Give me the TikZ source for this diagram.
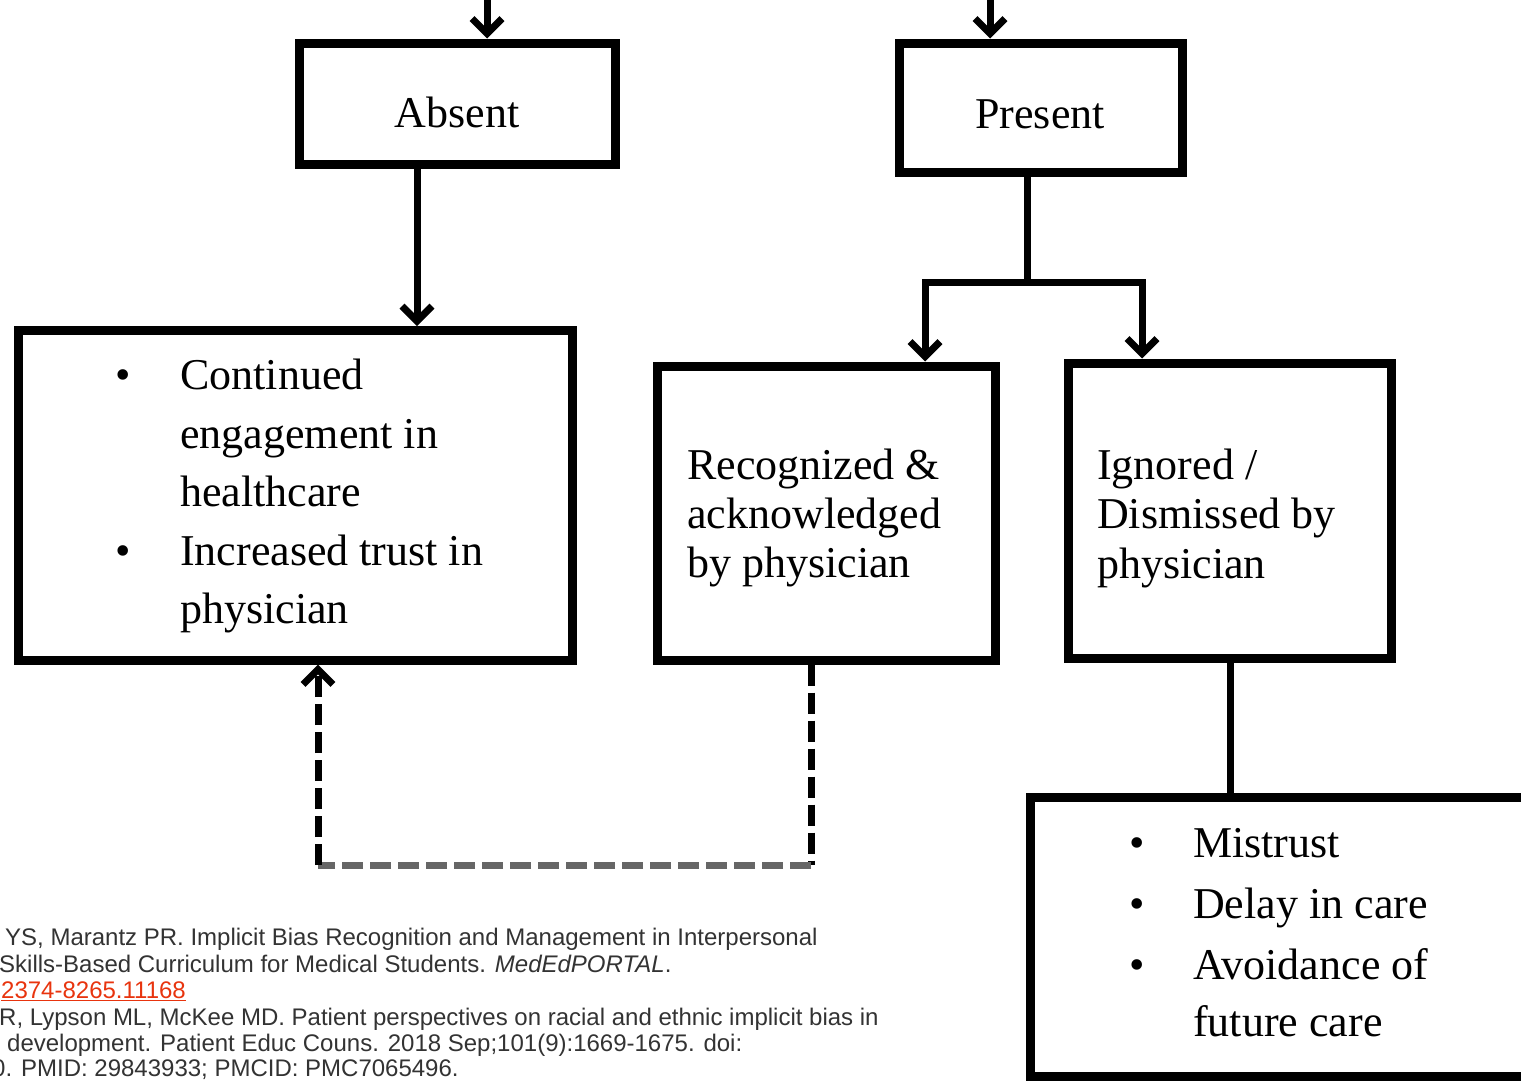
\documentclass[tikz,border=0pt]{standalone}
\usepackage{fontspec}
\setmainfont{Liberation Serif}
\newfontfamily\refsans{Liberation Sans}
\usetikzlibrary{arrows.meta}
\definecolor{linkred}{RGB}{232,52,14}
\tikzset{
  box/.style={draw, line width=9pt, outer sep=4.5pt, inner sep=0pt, rectangle},
  conn/.style={line width=7pt},
  chev/.tip={Straight Barb[length=15pt,width=30pt]},
  arr/.style={line width=7pt, -chev},
  dashline/.style={line width=7pt, dash pattern=on 21pt off 7pt},
  boxtext/.style={anchor=base west, inner sep=0pt, font=\fontsize{44}{50}\selectfont},
  bul/.style={anchor=base, inner sep=0pt, font=\fontsize{44}{50}\selectfont},
  reftext/.style={anchor=base west, inner sep=0pt, font=\refsans\fontsize{24}{27}\selectfont, text=black!80}
}
\begin{document}
\begin{tikzpicture}[x=1pt,y=-1pt]
\useasboundingbox (0,0) rectangle (1521,1080);
\clip (0,0) rectangle (1521,1080);
\fill[white] (0,0) rectangle (1521,1080);

% boxes
\node[box, minimum width=316pt, minimum height=121pt] (absent) at (457,103.5) {};
\node[box, minimum width=283pt, minimum height=129pt] (present) at (1040.5,107.5) {};
\node[box, minimum width=553.5pt, minimum height=329.5pt] (left) at (295.25,495.25) {};
\node[box, minimum width=338pt, minimum height=294pt] (mid) at (826,513) {};
\node[box, minimum width=323pt, minimum height=295pt] (right) at (1229.5,510.5) {};
\node[box, minimum width=515pt, minimum height=279pt] (br) at (1287.5,936.5) {};

% helper coordinates
\coordinate (t1) at (487,-10);
\coordinate (t2) at (990,-10);
\coordinate (s1) at (417,0);
\coordinate (s2) at (1027,282);
\coordinate (b1) at (925,0);
\coordinate (b2) at (1142,0);
\coordinate (s3) at (1230,0);
\coordinate (d1) at (811,0);
\coordinate (d2) at (318,0);
\coordinate (dc) at (0,865);

% connectors
\draw[arr] (t1) -- (t1 |- absent.north);
\draw[arr] (t2) -- (t2 |- present.north);
\draw[arr] (absent.south -| s1) -- (left.north -| s1);
\draw[conn] (present.south -| s2) -- (s2);
\draw[arr, line join=miter] (s2) -- (s2 -| b1) -- (b1 |- mid.north);
\draw[arr, line join=miter] (s2) -- (s2 -| b2) -- (b2 |- right.north);
\draw[conn] (right.south -| s3) -- (br.north -| s3);

% dashed feedback
\draw[dashline] (mid.south -| d1) -- (d1 |- dc);
\draw[dashline, black!60] (dc -| d1) -- (dc -| d2);
\draw[dashline, -chev] (d2 |- dc) -- (left.south -| d2);

% box texts
\node[anchor=base, inner sep=0pt, font=\fontsize{44}{50}\selectfont] (tabs) at (457,127) {Absent};
\node[anchor=base, inner sep=0pt, font=\fontsize{44}{50}\selectfont] (tpre) at (1040,128) {Present};

\node[bul] (lb1) at (123,389) {•};
\node[boxtext] (l1) at (180,389) {Continued};
\node[boxtext] (l2) at (180,448) {engagement in};
\node[boxtext] (l3) at (180,506) {healthcare};
\node[bul] (lb2) at (123,565) {•};
\node[boxtext] (l4) at (180,565) {Increased trust in};
\node[boxtext] (l5) at (180,623) {physician};

\node[boxtext] (m1) at (687,479) {Recognized \&};
\node[boxtext] (m2) at (687,528) {acknowledged};
\node[boxtext] (m3) at (687,577) {by physician};

\node[boxtext] (r1) at (1097,479) {Ignored /};
\node[boxtext] (r2) at (1097,528) {Dismissed by};
\node[boxtext] (r3) at (1097,578) {physician};

\node[bul] (bb1) at (1137,857) {•};
\node[boxtext] (q1) at (1193,857) {Mistrust};
\node[bul] (bb2) at (1137,918) {•};
\node[boxtext] (q2) at (1193,918) {Delay in care};
\node[bul] (bb3) at (1137,979) {•};
\node[boxtext] (q3) at (1193,979) {Avoidance of};
\node[boxtext] (q4) at (1193,1036) {future care};

% reference text (cut off at the left)
\node[reftext] (f1) at (5,945.5) {YS, Marantz PR. Implicit Bias Recognition and Management in Interpersonal};
\node[reftext] (f2) at (-1,972.5) {Skills-Based Curriculum for Medical Students. \textit{MedEdPORTAL}.};
\node[reftext, text=linkred] (f3) at (1,998.5) {\underline{2374-8265.11168}};
\node[reftext] (f4) at (-1,1025.5) {R, Lypson ML, McKee MD. Patient perspectives on racial and ethnic implicit bias in};
\node[reftext] (f5) at (7,1051.5) {development. Patient Educ Couns. 2018 Sep;101(9):1669-1675. doi:};
\node[reftext] (f6) at (-8,1076.5) {0. PMID: 29843933; PMCID: PMC7065496.};
\end{tikzpicture}
\end{document}
